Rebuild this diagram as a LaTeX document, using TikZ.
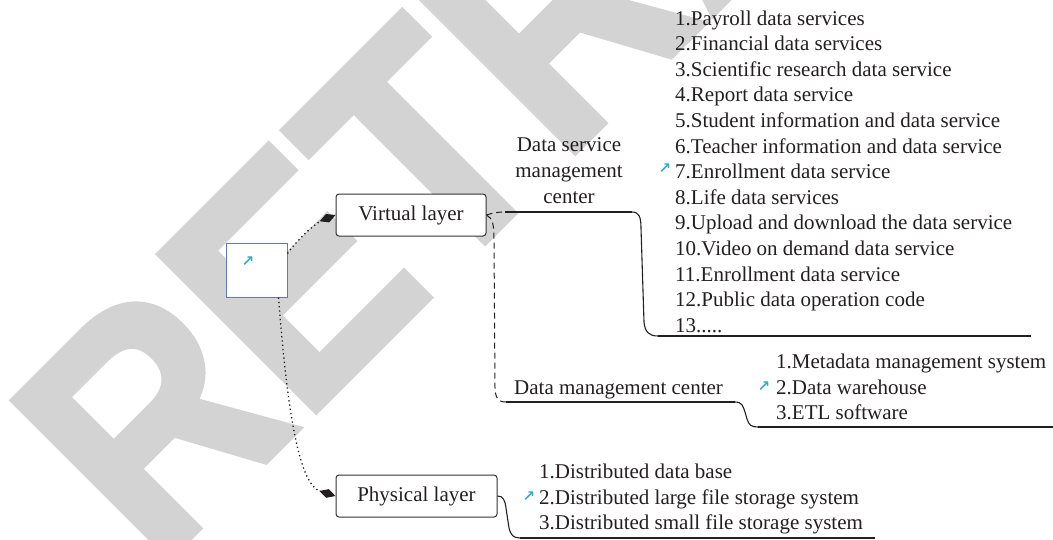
\documentclass[tikz,border=0pt]{standalone}
\usepackage{fontspec}
\setmainfont{Liberation Serif}
\newfontfamily\wmfont[FakeBold=2]{Liberation Sans Bold}
\newfontfamily\symfont{DejaVu Sans}
\usetikzlibrary{arrows.meta,calc}

\definecolor{wmgray}{RGB}{211,211,211}
\definecolor{inkc}{RGB}{35,31,32}
\definecolor{framec}{RGB}{51,51,51}
\definecolor{linkc}{RGB}{58,170,200}
\definecolor{sqblue}{RGB}{96,116,214}

\begin{document}
\begin{tikzpicture}[x=1pt,y=1pt,
  watermark/.style={rotate=45, anchor=base west, inner sep=0pt, text=wmgray,
    font=\wmfont\bfseries\fontsize{322}{322}\selectfont},
  layerbox/.style={draw=framec, line width=1pt, rounded corners=3pt, fill=white,
    minimum height=42pt, inner sep=0pt, text=inkc,
    font=\fontsize{21}{25}\selectfont},
  itemtext/.style={anchor=base west, inner sep=0pt, text=inkc,
    font=\fontsize{21}{25}\selectfont},
  headtext/.style={anchor=base, inner sep=0pt, text=inkc,
    font=\fontsize{21}{25}\selectfont},
  linkicon/.style={inner sep=0pt, text=linkc,
    font=\symfont\bfseries\fontsize{15}{15}\selectfont},
  dottedlink/.style={draw=inkc, line width=1.3pt, dash pattern=on 1.3pt off 3pt,
    -{Diamond[length=17pt,width=9pt,fill=inkc]}},
  dashedlink/.style={draw=inkc, line width=1pt, dash pattern=on 6pt off 4pt},
  branch/.style={draw=inkc, line width=1.1pt},
  underline/.style={draw=inkc, line width=1.8pt}
]
\useasboundingbox (0,0) rectangle (1053,-539);

% background watermark
\begin{scope}
  \clip (0,0) rectangle (1053,-539);
  \node[watermark] (wm) at (156,-571) {\scalebox{0.89}[1]{RETRACTED}};
\end{scope}

% central topic and the two layers
\node[draw=sqblue, line width=1pt, fill=white, minimum width=61pt,
      minimum height=54pt, inner sep=0pt] (sq) at (256.5,-270) {};
\node[linkicon] (icon-sq) at (248,-262) {↗};
\node[layerbox, minimum width=150pt] (vl) at (411,-215) {Virtual layer};
\node[layerbox, minimum width=161pt] (pl) at (416.5,-496) {Physical layer};

% data service management center
\node[headtext] (dsm1) at (569,-151) {Data service};
\node[headtext] (dsm2) at (569,-177) {management};
\node[headtext] (dsm3) at (569,-203) {center};

\foreach \txt [count=\i] in {1.Payroll data services,
  2.Financial data services,
  3.Scientific research data service,
  4.Report data service,
  5.Student information and data service,
  6.Teacher information and data service,
  7.Enrollment data service,
  8.Life data services,
  9.Upload and download the data service,
  10.Video on demand data service,
  11.Enrollment data service,
  12.Public data operation code}
  \node[itemtext] (s\i) at (675,{-25-25.6*(\i-1)}) {\txt};
\node[itemtext] (s13) at (675,-332.2) {13.....};
\node[linkicon] (icon-s7) at (665,-169) {↗};

% data management center
\node[itemtext] (dm) at (514,-394) {Data management center};
\node[itemtext] (dm1) at (776,-368) {1.Metadata management system};
\node[itemtext] (dm2) at (776,-394) {2.Data warehouse};
\node[itemtext] (dm3) at (776,-419) {3.ETL software};
\node[linkicon] (icon-dm2) at (764,-387) {↗};

% physical layer items
\node[itemtext] (p1) at (539,-478) {1.Distributed data base};
\node[itemtext] (p2) at (539,-504) {2.Distributed large file storage system};
\node[itemtext] (p3) at (539,-529) {3.Distributed small file storage system};
\node[linkicon] (icon-p2) at (529,-497) {↗};

% central topic to layers
\draw[dottedlink] ($(sq.north east)+(0,-11)$) .. controls (300,-236) and (318,-222) .. (vl.west);
\draw[dottedlink] ($(sq.south east)+(-9,0)$) .. controls (288,-420) and (300,-485) .. (pl.west);

% virtual layer branches
\coordinate (dsm-a) at (505,-212);
\coordinate (dsm-b) at (632,-212);
\coordinate (dsm-c) at (658,-336);
\coordinate (dsm-d) at (1031,-336);
\coordinate (dm-a) at (506,-402);
\coordinate (dm-b) at (735,-402);
\coordinate (dm-c) at (758,-427);
\coordinate (dm-d) at (1053,-427);

\draw[dashedlink] (vl.east) .. controls (493,-213) and (497,-212) .. (dsm-a);
\draw[dashedlink] (vl.east) .. controls (493,-218) and (494,-226) .. (494,-240)
  -- (495,-388) .. controls (495.5,-398) and (498,-402) .. (dm-a);

\draw[underline] (dsm-a) -- (dsm-b);
\draw[branch] (dsm-b) .. controls (639,-212) and (641,-217) .. (641,-228)
  -- (644,-322) .. controls (645,-332) and (649,-336) .. (dsm-c);
\draw[underline] (dsm-c) -- (dsm-d);

\draw[underline] (dm-a) -- (dm-b);
\draw[branch] (dm-b) .. controls (742,-402) and (743,-406) .. (745,-412)
  -- (747,-419) .. controls (749,-425) and (751,-427) .. (dm-c);
\draw[underline] (dm-c) -- (dm-d);

% physical layer branch
\coordinate (pl-a) at (520,-538);
\coordinate (pl-b) at (875,-538);
\draw[branch] (pl.east) .. controls (503,-496) and (505,-500) .. (506,-508)
  -- (509,-528) .. controls (511,-535) and (513,-538) .. (pl-a);
\draw[underline] (pl-a) -- (pl-b);
\end{tikzpicture}
\end{document}
